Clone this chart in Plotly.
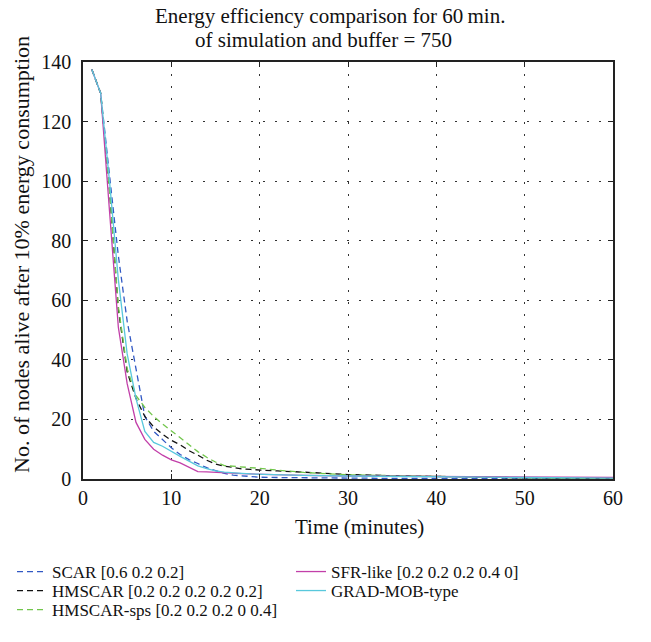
import plotly.graph_objects as go

time_min = [1, 2, 3, 4, 5, 6, 7, 8, 9, 10, 11, 12, 13, 14, 15, 16, 17, 18, 19, 20,
            22, 25, 30, 35, 40, 45, 50, 55, 60]

scar = [137.5, 129.5, 102, 75, 53, 37, 21, 16, 13.3, 10.5, 8.2, 6.5, 5.2, 3.8, 2.8, 1.9, 1.3, 1.0, 0.8, 0.6,
        0.5, 0.4, 0.3, 0.2, 0.2, 0.2, 0.2, 0.1, 0.1]
hmscar = [137.5, 129.5, 97, 57, 36, 27, 21, 17.5, 15, 13, 11.5, 9.5, 8, 6.3, 5, 4.3, 3.9, 3.4, 3.2, 3.0,
          2.7, 2.3, 1.5, 1.1, 0.8, 0.6, 0.4, 0.3, 0.1]
hmscar_sps = [137.5, 129.5, 97, 58, 37, 28, 24, 21, 18.5, 16.2, 14, 11.5, 9.2, 7.3, 5.7, 4.5, 4.3, 4.1, 3.9, 3.6,
              3.0, 2.2, 1.4, 1.1, 0.8, 0.6, 0.4, 0.3, 0.1]
sfr_like = [137.5, 129.5, 90, 51, 32, 19, 13.3, 10, 8, 6.4, 5.4, 4, 2.5, 2.4, 2.2, 2.1, 1.9, 1.8, 1.7, 1.6,
            1.4, 1.2, 1.0, 0.9, 0.8, 0.8, 0.7, 0.6, 0.5]
grad_mob = [137.5, 129.5, 100, 67, 42, 27, 16, 12.3, 11, 9.2, 7.6, 6, 4.4, 3.5, 2.7, 2.3, 2.0, 1.9, 1.7, 1.6,
            1.4, 1.2, 1.0, 0.8, 0.7, 0.6, 0.5, 0.4, 0.3]

names = ["SCAR [0.6 0.2 0.2]", "HMSCAR [0.2 0.2 0.2 0.2 0.2]", "HMSCAR-sps [0.2 0.2 0.2 0 0.4]",
         "SFR-like [0.2 0.2 0.2 0.4 0]", "GRAD-MOB-type"]
x_ticks = [0, 10, 20, 30, 40, 50, 60]
y_ticks = [0, 20, 40, 60, 80, 100, 120, 140]
title_lines = ["Energy efficiency comparison for 60\u2009min.", "of simulation and buffer = 750"]
x_title = "Time (minutes)"
y_title = "No. of nodes alive after 10% energy consumption"

FONT = "Liberation Serif"
W, H = 651, 642
series = [
    (scar, names[0], "#3158c4", "6px,4px"),
    (hmscar, names[1], "#111111", "6px,4px"),
    (hmscar_sps, names[2], "#72c64c", "6px,4px"),
    (sfr_like, names[3], "#c23fa9", "solid"),
    (grad_mob, names[4], "#58c8dc", "solid"),
]
# legend slot positions (container pixels): left x, center y
legend_slots = [(12, 572), (12, 591), (12, 610), (291, 572), (291, 591)]

fig = go.Figure()
legend_layout = {}
for i, (ys, nm, col, dash) in enumerate(series):
    lg = "legend" if i == 0 else f"legend{i + 1}"
    fig.add_trace(go.Scatter(x=time_min, y=ys, mode="lines", name=nm, legend=lg,
                             line=dict(color=col, width=1.3, dash=dash)))
    lx, ly = legend_slots[i]
    legend_layout[lg] = dict(x=lx / W, y=1 - ly / H, xanchor="left", yanchor="middle",
                             xref="container", yref="container",
                             font=dict(family=FONT, size=17, color="#111"),
                             bgcolor="rgba(0,0,0,0)", itemwidth=30)

axis_common = dict(showline=True, linecolor="#222", linewidth=1.5, mirror="allticks",
                   ticks="inside", ticklen=5, tickcolor="#222", showgrid=True,
                   gridcolor="#333", griddash="2px,10px", gridwidth=1, zeroline=False,
                   tickfont=dict(family=FONT, size=20, color="#111"))

L, R, T, B = 83, 38, 62, 163
pw, ph = W - L - R, H - T - B


def to_paper(px, py):
    return (px - L) / pw, 1 - (py - T) / ph


text_items = [
    (title_lines[0], 330, 16, 21, 0),
    (title_lines[1], 323, 40, 21, 0),
    (x_title, 359, 527, 21, 0),
    (y_title, 21, 255, 22, -90),
]
annotations = []
for txt, px, py, fs, ang in text_items:
    ax, ay = to_paper(px, py)
    annotations.append(dict(text=txt, x=ax, y=ay, xref="paper", yref="paper",
                            showarrow=False, xanchor="center", yanchor="middle", textangle=ang,
                            font=dict(family=FONT, size=fs, color="#111")))

fig.update_layout(
    width=W, height=H,
    margin=dict(l=L, r=R, t=T, b=B, autoexpand=False),
    paper_bgcolor="white", plot_bgcolor="white",
    font=dict(family=FONT, size=16, color="#111"),
    xaxis=dict(range=[0, 60], tickvals=x_ticks, ticklabelstandoff=0, **axis_common),
    yaxis=dict(range=[0, 140], tickvals=y_ticks, ticklabelstandoff=6, **axis_common),
    annotations=annotations,
    showlegend=True,
    **legend_layout,
)

fig.write_html("out.html")
